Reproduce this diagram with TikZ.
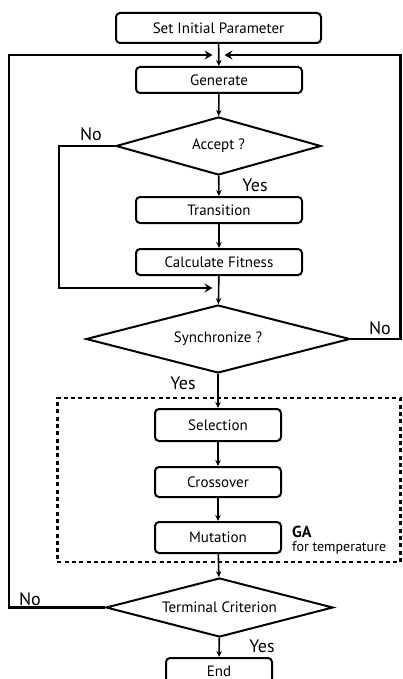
\documentclass[tikz,border=0pt]{standalone}
\usepackage{fontspec}
\setmainfont{PT Sans}
\usetikzlibrary{shapes.geometric,arrows.meta}
\begin{document}
\begin{tikzpicture}[x=1pt,y=-1pt,
  procbox/.style={draw,line width=2pt,rounded corners=4pt,inner sep=0pt,font=\fontsize{15}{17}\selectfont},
  decbox/.style={draw,diamond,line width=2pt,inner sep=0pt,font=\fontsize{15}{17}\selectfont},
  flow/.style={line width=1.6pt,-{Stealth[length=6pt,width=5.5pt]}},
  loopline/.style={line width=2.8pt,-{Stealth[length=8pt,width=9pt,inset=3pt]}},
  lbl/.style={inner sep=0pt,font=\fontsize{18}{20}\selectfont},
  gabox/.style={draw,line width=2.6pt,dash pattern=on 4pt off 3.3pt}]
\useasboundingbox (0,0) rectangle (402,679);
\clip (0,0) rectangle (402,679);
% nodes
\node[procbox,minimum width=205pt,minimum height=30pt] (init) at (218.5,28) {Set Initial Parameter};
\node[procbox,minimum width=166pt,minimum height=26pt] (gen) at (219,80) {Generate};
\node[decbox,aspect=3.53,minimum width=205pt,minimum height=58pt] (accept) at (218.5,146) {Accept ?};
\node[procbox,minimum width=166pt,minimum height=26pt] (trans) at (219,210) {Transition};
\node[procbox,minimum width=166pt,minimum height=26pt] (fit) at (219,262) {Calculate Fitness};
\node[decbox,aspect=3.88,minimum width=264pt,minimum height=68pt] (sync) at (218,339) {Synchronize ?};
\node[gabox,minimum width=343pt,minimum height=164pt,inner sep=0pt] (ga) at (228.8,480) {};
\node[procbox,minimum width=126pt,minimum height=32pt] (sel) at (218,425) {Selection};
\node[procbox,minimum width=126pt,minimum height=30pt] (cross) at (218,482) {Crossover};
\node[procbox,minimum width=126pt,minimum height=31pt] (mut) at (218,537.5) {Mutation};
\node[decbox,aspect=3.85,minimum width=227pt,minimum height=59pt] (term) at (219.5,607.5) {Terminal Criterion};
\node[procbox,minimum width=106pt,minimum height=26pt] (end) at (219,671) {End};
% GA label
\node[anchor=west,inner sep=0pt,font=\fontsize{16}{18}\selectfont\bfseries] (galbl) at (292,532) {GA};
\node[anchor=west,inner sep=0pt,font=\fontsize{14}{16}\selectfont] (gasub) at (292,548) {for temperature};
% junction coordinates
\coordinate (jL) at (212.5,55);
\coordinate (jR) at (224.5,55);
\coordinate (cornerL) at (9,55);
\coordinate (cornerR) at (400.5,55);
\coordinate (nL) at (59,288);
\coordinate (jN) at (212.5,288);
% vertical flow
\draw[flow] (init) -- (gen);
\draw[flow] (gen) -- (accept);
\draw[flow] (accept) -- (trans);
\draw[flow] (trans) -- (fit);
\draw[flow] (fit) -- (sync);
\draw[flow] (sync.south) -- (sel.north);
\draw[flow] (sel) -- (cross);
\draw[flow] (cross) -- (mut);
\draw[flow] (mut) -- (term);
\draw[flow] (term) -- (end);
% loops
\draw[loopline] (accept.west) -| (nL) -- (jN);
\draw[loopline] (sync.east) -| (cornerR) -- (jR);
\draw[loopline] (term.west) -| (cornerL) -- (jL);
% labels
\node[lbl] (noA) at (91,134) {No};
\node[lbl] (yesA) at (255,185) {Yes};
\node[lbl] (noS) at (380,328) {No};
\node[lbl] (yesS) at (183,383) {Yes};
\node[lbl] (noT) at (30,599) {No};
\node[lbl] (yesT) at (262,646) {Yes};
\end{tikzpicture}
\end{document}
